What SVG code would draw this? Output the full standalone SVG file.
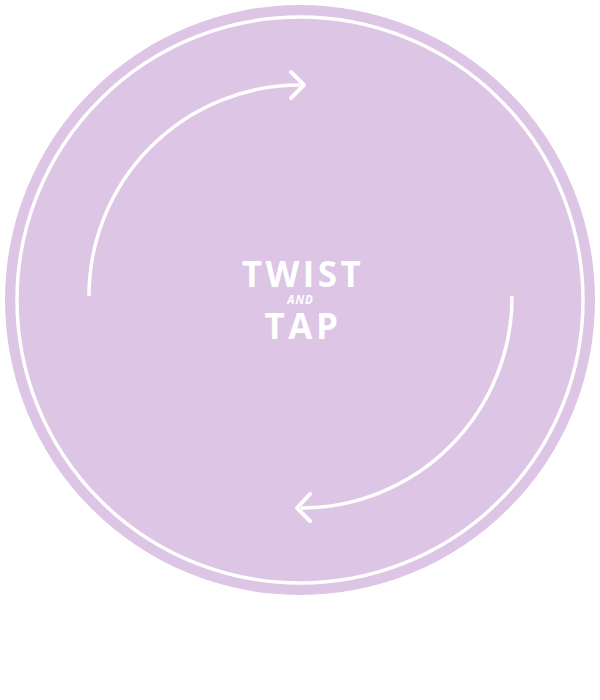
<svg xmlns="http://www.w3.org/2000/svg" width="600" height="700" viewBox="0 0 600 700">
<style>
.arc{fill:none;stroke:#fff;stroke-width:3.5;stroke-linecap:butt}
.head{fill:none;stroke:#fff;stroke-width:4;stroke-linecap:round;stroke-linejoin:round}
.big{font-family:"Open Sans","Liberation Sans",sans-serif;font-weight:700;font-size:35px;letter-spacing:3.5px;fill:#fff;text-anchor:middle}
.small{font-family:"Open Sans","Liberation Sans",sans-serif;font-weight:700;font-style:italic;font-size:11.5px;letter-spacing:1px;fill:#fff;text-anchor:middle}
</style>
<rect width="600" height="700" fill="#fff"/>
<g id="circle">
<circle cx="300" cy="300" r="295" fill="#dcc5e5"/>
<circle cx="300" cy="300" r="283" fill="none" stroke="#fff" stroke-width="3.5"/>
</g>
<g id="connectors">
<path class="arc" d="M89 296 A211 211 0 0 1 300 85"/>
<polyline class="head" points="291,72 304,85 291,98"/>
<path class="arc" d="M512 296 A211 211 0 0 1 301 508"/>
<polyline class="head" points="310,494 297,508 310,521"/>
</g>
<g id="label">
<text class="big" x="303" y="287">TWIST</text>
<text class="small" x="300.5" y="303.5">AND</text>
<text class="big" x="303" y="339">TAP</text>
</g>
</svg>
